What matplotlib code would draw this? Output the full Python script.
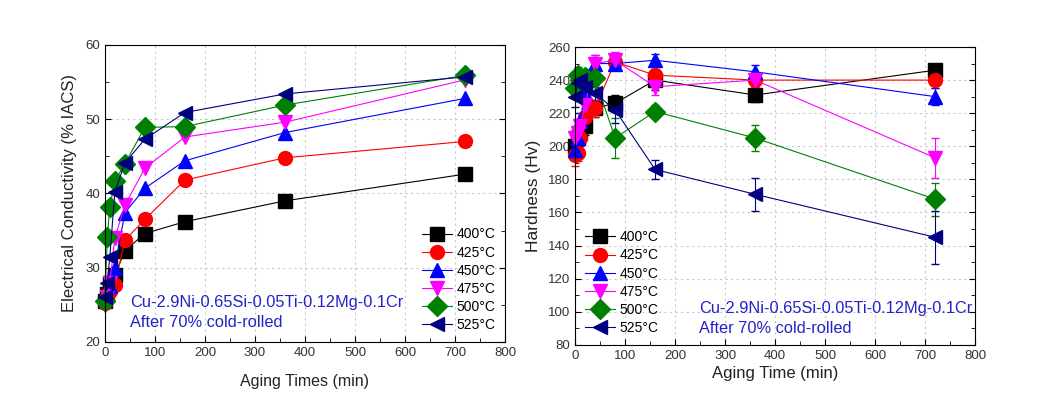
import matplotlib.pyplot as plt
from matplotlib.ticker import MultipleLocator
import numpy as np

plt.rcParams['font.family'] = ['Liberation Sans', 'DejaVu Sans']

times = [0, 5, 10, 20, 40, 80, 160, 360, 720]
labels = ["400°C", "425°C", "450°C", "475°C", "500°C", "525°C"]
colors = ["black", "red", "blue", "magenta", "green", "navy"]
markers = ["s", "o", "^", "v", "D", "<"]

# electrical conductivity (% IACS)
ec_400 = [25.5, 26.5, 28.0, 29.0, 32.3, 34.6, 36.2, 39.0, 42.6]
ec_425 = [25.3, 26.0, 26.8, 27.7, 33.7, 36.5, 41.8, 44.8, 47.0]
ec_450 = [25.8, 26.5, 27.5, 30.0, 37.4, 40.7, 44.4, 48.2, 52.8]
ec_475 = [25.0, 26.0, 28.0, 34.0, 38.4, 43.4, 47.6, 49.6, 55.3]
ec_500 = [25.5, 34.2, 38.2, 41.7, 44.0, 48.9, 49.0, 51.9, 55.9]
ec_525 = [26.0, 28.0, 31.5, 40.2, 44.1, 47.3, 50.9, 53.4, 55.7]

# hardness (Hv) and error bars
hv_400 = [200, 205, 208, 212, 223, 226, 240, 231, 246]
hv_425 = [195, 196, 205, 218, 223, 251, 243, 240, 240]
hv_450 = [198, 205, 215, 232, 250, 250, 252, 245, 230]
hv_475 = [205, 208, 212, 225, 250, 252, 236, 240, 193]
hv_500 = [235, 243, 240, 242, 241, 205, 221, 205, 168]
hv_525 = [230, 238, 240, 236, 232, 222, 186, 171, 145]
err_400 = [4, 4, 4, 5, 5, 5, 6, 4, 4]
err_425 = [7, 5, 5, 5, 5, 5, 6, 4, 5]
err_450 = [5, 5, 5, 5, 5, 4, 4, 4, 5]
err_475 = [5, 5, 5, 5, 5, 5, 5, 4, 12]
err_500 = [6, 5, 5, 5, 5, 12, 4, 8, 10]
err_525 = [6, 6, 5, 5, 5, 8, 6, 10, 16]

ec_all = [ec_400, ec_425, ec_450, ec_475, ec_500, ec_525]
hv_all = [hv_400, hv_425, hv_450, hv_475, hv_500, hv_525]
err_all = [err_400, err_425, err_450, err_475, err_500, err_525]

alloy = "Cu-2.9Ni-0.65Si-0.05Ti-0.12Mg-0.1Cr\nAfter 70% cold-rolled"
text_color = "#2323c8"

fig = plt.figure(figsize=(10.59, 4.16), dpi=100)
ax1 = fig.add_axes([0.099, 0.178, 0.378, 0.714])
ax2 = fig.add_axes([0.543, 0.171, 0.378, 0.716])


def style(ax):
    ax.grid(True, which='major', color='#c8c8c8', linestyle=(0, (2, 3)), lw=0.8)
    ax.set_axisbelow(True)
    ax.tick_params(which='both', direction='in', labelsize=9.5,
                   labelcolor='#333333', right=True, top=False)
    ax.tick_params(which='major', length=4)
    ax.tick_params(which='minor', length=3)
    ax.xaxis.set_major_locator(MultipleLocator(100))
    ax.xaxis.set_minor_locator(MultipleLocator(50))
    ax.set_xlim(0, 800)


for y, c, m, lab in zip(ec_all, colors, markers, labels):
    ax1.plot(times, y, color=c, marker=m, ms=10, lw=0.8, label=lab,
             clip_on=False)
style(ax1)
ax1.set_ylim(20, 60)
ax1.yaxis.set_major_locator(MultipleLocator(10))
ax1.yaxis.set_minor_locator(MultipleLocator(5))
ax1.set_xlabel("Aging Times (min)", fontsize=11.5, color='#222222', labelpad=11)
ax1.set_ylabel("Electrical Conductivity (% IACS)", fontsize=12,
               color='#222222', labelpad=6)
ax1.legend(loc='lower right', frameon=False, fontsize=10, labelspacing=0.3,
           handlelength=2.2, handletextpad=0.3, borderaxespad=0.3)
ax1.text(0.063, 0.05, alloy, transform=ax1.transAxes, color=text_color,
         fontsize=11.8, linespacing=1.45)

handles = []
for y, e, c, m, lab in zip(hv_all, err_all, colors, markers, labels):
    cont = ax2.errorbar(times, y, yerr=e, color=c, marker=m, ms=10, lw=0.8,
                        capsize=3, elinewidth=0.8, label=lab, clip_on=False)
    handles.append(cont.lines[0])
style(ax2)
ax2.set_ylim(80, 260)
ax2.yaxis.set_major_locator(MultipleLocator(20))
ax2.yaxis.set_minor_locator(MultipleLocator(10))
ax2.set_xlabel("Aging Time (min)", fontsize=12, color='#222222', labelpad=3)
ax2.set_ylabel("Hardness (Hv)", fontsize=12.5, color='#222222', labelpad=5)
ax2.legend(handles, labels, loc='lower left', frameon=False, fontsize=10,
           labelspacing=0.3, handlelength=2.2, handletextpad=0.3,
           borderaxespad=0.3)
ax2.text(0.31, 0.04, alloy, transform=ax2.transAxes, color=text_color,
         fontsize=11.8, linespacing=1.45)

fig.savefig("out.png", dpi=100)
